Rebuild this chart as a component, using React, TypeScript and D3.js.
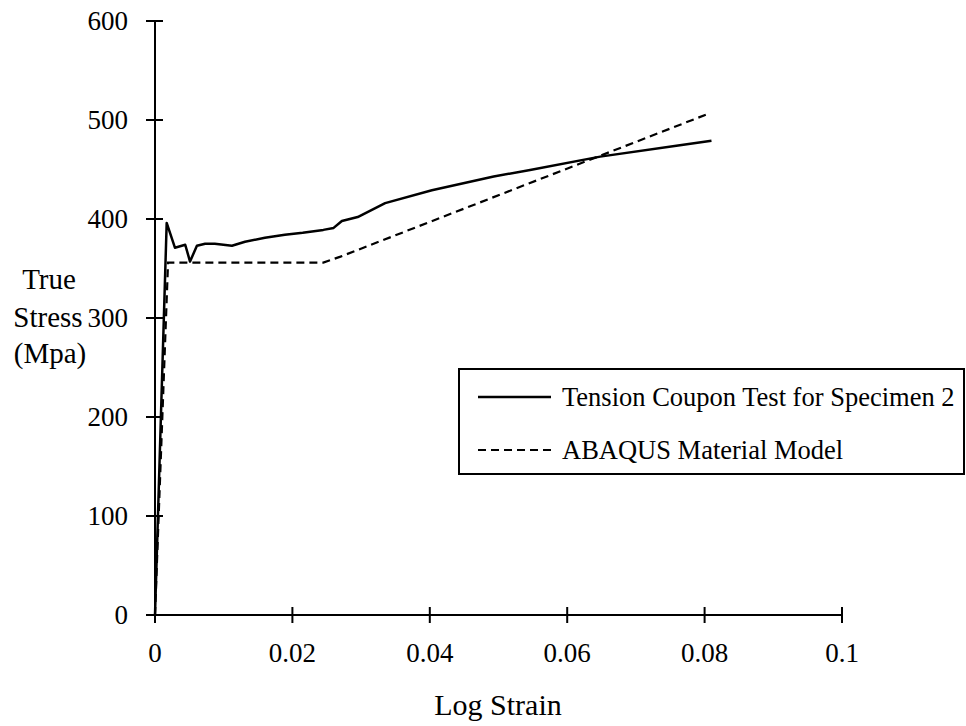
import React from "react";
import * as d3 from "d3";

const testStrain = [0, 0.0017, 0.0029, 0.0044, 0.0051, 0.0061, 0.0073, 0.0087, 0.0112, 0.0131, 0.016, 0.0189, 0.0215, 0.0245, 0.026, 0.0272, 0.0295, 0.0335, 0.0403, 0.0493, 0.0546, 0.0648, 0.0764, 0.081];
const testStress = [0, 396, 371, 374, 357, 373, 375, 375, 373, 377, 381, 384, 386, 389, 391, 398, 402, 416, 429, 443, 449.5, 463, 474.5, 479];

const modelStrain = [0, 0.0019, 0.0245, 0.027, 0.0808];
const modelStress = [0, 356, 356, 362, 507];

const xTicks = [0, 0.02, 0.04, 0.06, 0.08, 0.1];
const xTickLabels = ["0", "0.02", "0.04", "0.06", "0.08", "0.1"];
const yTicks = [0, 100, 200, 300, 400, 500, 600];

const legendLabels = ["Tension Coupon Test for Specimen 2", "ABAQUS Material Model"];

export default function App() {
  const W = 966, H = 726;
  const x = d3.scaleLinear().domain([0, 0.1]).range([155, 842]);
  const y = d3.scaleLinear().domain([0, 600]).range([615, 21]);
  const line = d3.line<[number, number]>().x(d => x(d[0])).y(d => y(d[1]));
  const testData = testStrain.map((s, i) => [s, testStress[i]] as [number, number]);
  const modelData = modelStrain.map((s, i) => [s, modelStress[i]] as [number, number]);
  const font = "'Liberation Serif', 'Times New Roman', serif";

  return (
    <svg width={W} height={H} style={{ position: "absolute", left: 0, top: 0, background: "#fff" }} fontFamily={font}>
      <rect width={W} height={H} fill="#fff" />
      {/* axes */}
      <line x1={x(0)} x2={x(0)} y1={y(600)} y2={y(0)} stroke="#000" strokeWidth={2} />
      <line x1={x(0)} x2={x(0.1)} y1={y(0)} y2={y(0)} stroke="#000" strokeWidth={2} />
      {yTicks.map(t => (
        <g key={"y" + t}>
          <line x1={x(0) - 9} x2={x(0) + 8} y1={y(t)} y2={y(t)} stroke="#000" strokeWidth={2} />
          <text x={128} y={y(t) + 9} fontSize={27} textAnchor="end" fill="#000">{t}</text>
        </g>
      ))}
      {xTicks.map((t, i) => (
        <g key={"x" + t}>
          <line x1={x(t)} x2={x(t)} y1={y(0) - 8} y2={y(0) + 8} stroke="#000" strokeWidth={2} />
          <text x={x(t)} y={662} fontSize={27} textAnchor="middle" fill="#000">{xTickLabels[i]}</text>
        </g>
      ))}
      {/* axis titles */}
      <text x={498} y={715} fontSize={30} textAnchor="middle" fill="#000">Log Strain</text>
      <text x={49} y={289} fontSize={29} textAnchor="middle" fill="#000">True</text>
      <text x={48} y={327} fontSize={29} textAnchor="middle" fill="#000">Stress</text>
      <text x={50} y={363} fontSize={29} textAnchor="middle" fill="#000">(Mpa)</text>
      {/* curves */}
      <path d={line(modelData) || ""} fill="none" stroke="#000" strokeWidth={2.2} strokeDasharray="8,5" />
      <path d={line(testData) || ""} fill="none" stroke="#000" strokeWidth={2.5} strokeLinejoin="round" />
      {/* legend */}
      <rect x={459} y={369} width={505} height={105} fill="#fff" stroke="#000" strokeWidth={2} />
      <line x1={478} x2={551} y1={397} y2={397} stroke="#000" strokeWidth={2.5} />
      <text x={562} y={406} fontSize={26.5} fill="#000">{legendLabels[0]}</text>
      <line x1={478} x2={551} y1={450} y2={450} stroke="#000" strokeWidth={2.2} strokeDasharray="8,5" />
      <text x={562} y={459} fontSize={26.5} fill="#000">{legendLabels[1]}</text>
    </svg>
  );
}
